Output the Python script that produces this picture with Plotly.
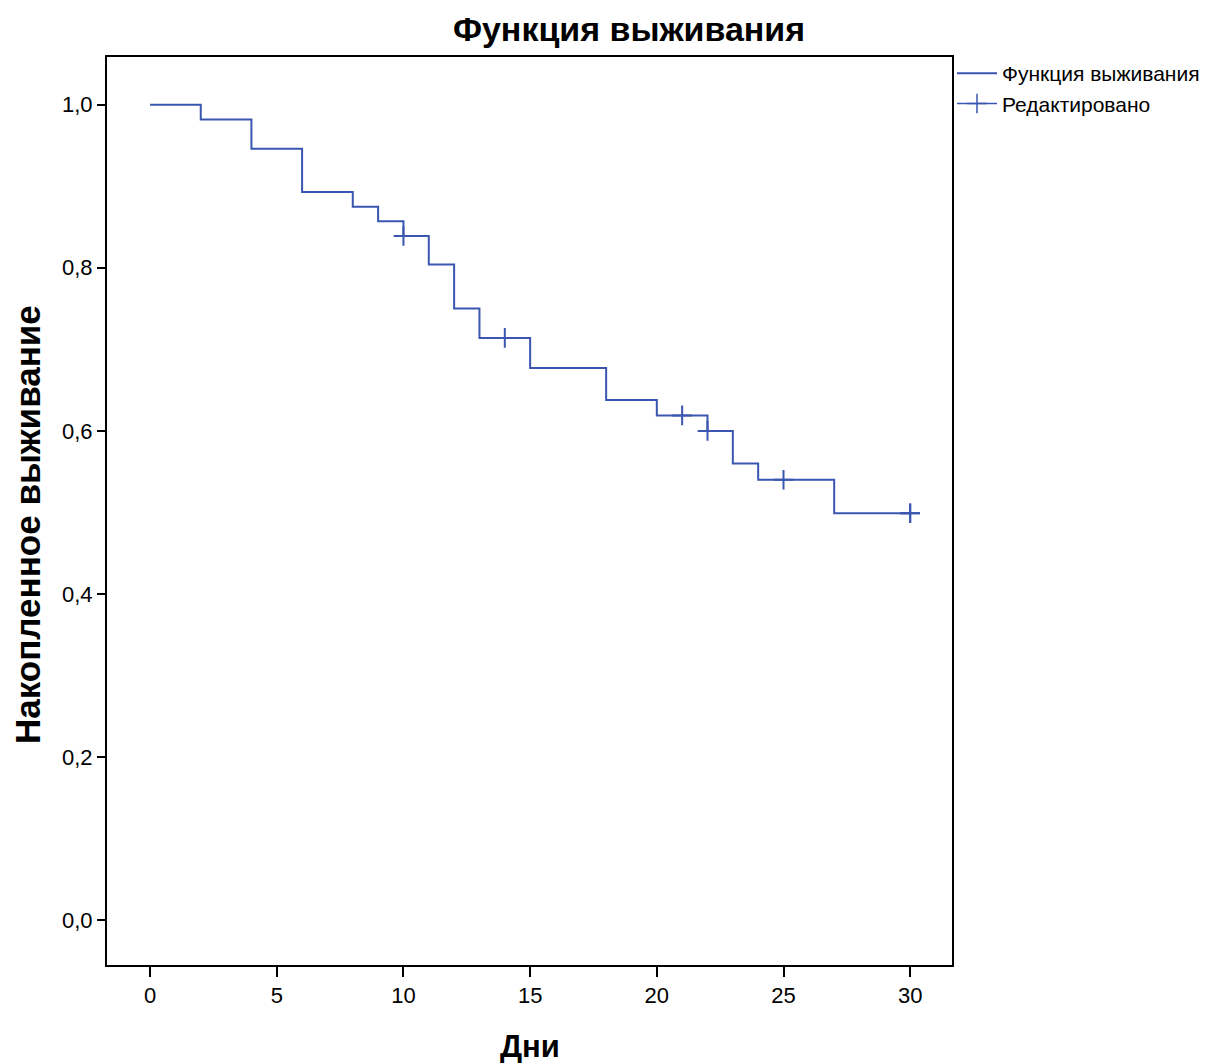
import plotly.graph_objects as go

# Kaplan-Meier step curve (days, cumulative survival)
step_days = [0, 2, 4, 6, 8, 9, 10, 11, 12, 13, 15, 18, 20, 22, 23, 24, 27, 30]
step_surv = [1.0, 0.982, 0.946, 0.893, 0.875, 0.857, 0.839, 0.804, 0.750, 0.714,
             0.677, 0.638, 0.619, 0.600, 0.560, 0.540, 0.499, 0.499]

# Censored observations (several patients censored at day 30)
cens_days = [10, 14, 21, 22, 25, 30, 30]
cens_surv = [0.839, 0.714, 0.619, 0.600, 0.540, 0.499, 0.499]

x_ticks = [0, 5, 10, 15, 20, 25, 30]
y_ticks = [0.0, 0.2, 0.4, 0.6, 0.8, 1.0]

blue = "#3a56b0"
font_fam = "Liberation Sans, Arial, sans-serif"

L, R, T, B = 107, 952, 57, 965
W, H = 1227, 1063

fig = go.Figure()
fig.add_trace(go.Scatter(
    x=step_days, y=step_surv, mode="lines", line=dict(shape="hv", color=blue, width=2),
    name="Функция выживания", hoverinfo="x+y"))
fig.add_trace(go.Scatter(
    x=cens_days, y=cens_surv, mode="markers",
    marker=dict(symbol="cross-thin", size=14, line=dict(color=blue, width=2)),
    showlegend=False, hoverinfo="x+y"))
fig.add_trace(go.Scatter(
    x=[None], y=[None], mode="lines+markers", line=dict(color=blue, width=1.5),
    marker=dict(symbol="cross-thin", size=14, line=dict(color=blue, width=1.5)),
    name="Редактировано"))

fig.update_layout(
    width=W, height=H,
    margin=dict(l=L, r=W - R, t=T, b=H - B),
    paper_bgcolor="white", plot_bgcolor="white",
    separators=", ",
    title=dict(text="<b>Функция выживания</b>", x=629 / W, xanchor="center",
               y=1 - 29 / H, yanchor="middle",
               font=dict(family=font_fam, size=34, color="black")),
    legend=dict(x=1.0, xanchor="left", y=1.0 + 4 / (B - T), yanchor="top",
                bgcolor="rgba(0,0,0,0)",
                font=dict(family=font_fam, size=21, color="black"),
                tracegroupgap=0, itemwidth=40),
    font=dict(family=font_fam, color="black"),
    annotations=[
        dict(text="<b>Накопленное выживание</b>", textangle=-90,
             xref="paper", yref="paper", x=(27 - L) / (R - L), y=(B - 525) / (B - T),
             xanchor="center", yanchor="middle", showarrow=False,
             font=dict(family=font_fam, size=35, color="black")),
        dict(text="<b>Дни</b>",
             xref="paper", yref="paper", x=0.5, y=(B - 1046) / (B - T),
             xanchor="center", yanchor="middle", showarrow=False,
             font=dict(family=font_fam, size=31, color="black")),
    ],
)
fig.update_xaxes(
    range=[-1.7, 31.65], tickvals=x_ticks, ticks="outside", ticklen=10, tickwidth=2,
    tickcolor="black", showline=True, linecolor="black", linewidth=2, mirror=True,
    showgrid=False, zeroline=False, automargin=False,
    tickfont=dict(family=font_fam, size=22, color="black"))
fig.update_yaxes(
    range=[-0.055, 1.0585], tickvals=y_ticks, tickformat=".1f", ticks="outside", ticklen=8,
    tickwidth=2, tickcolor="black", showline=True, linecolor="black", linewidth=2, mirror=True,
    showgrid=False, zeroline=False, automargin=False,
    tickfont=dict(family=font_fam, size=22, color="black"))

fig.write_html("out.html")
